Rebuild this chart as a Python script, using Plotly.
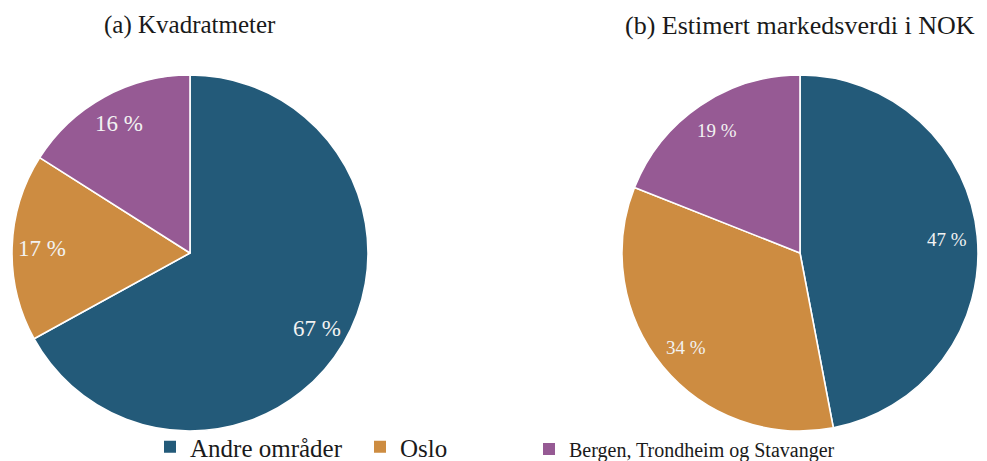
import math
import plotly.graph_objects as go

# ---- data ----
categories = ["Andre områder", "Oslo", "Bergen, Trondheim og Stavanger"]
kvadratmeter = [67, 17, 16]
markedsverdi = [47, 34, 19]
titles = ["(a) Kvadratmeter", "(b) Estimert markedsverdi i NOK"]
colors = ["#235A79", "#CD8C41", "#965A94"]

W, H = 987, 461
FONT = "Liberation Serif"

# pie domains (paper fractions)
dom_left = dict(x=[12 / W, 368 / W], y=[30 / H, 386 / H])
dom_right = dict(x=[622 / W, 978 / W], y=[30 / H, 386 / H])

fig = go.Figure()
for vals, dom in [(kvadratmeter, dom_left), (markedsverdi, dom_right)]:
    fig.add_trace(go.Pie(
        labels=categories, values=vals, domain=dom, sort=False,
        direction="clockwise", rotation=0, textinfo="none",
        marker=dict(colors=colors, line=dict(color="white", width=1.6)),
        showlegend=False, hoverinfo="label+percent",
    ))

# legend proxies
legend_of = ["legend", "legend", "legend2"]
for cat, col, lg in zip(categories, colors, legend_of):
    fig.add_trace(go.Scatter(
        x=[None], y=[None], mode="markers", name=cat, legend=lg,
        marker=dict(symbol="square", size=12, color=col),
        hoverinfo="skip",
    ))

annotations = []
# titles
for t, dom, fs in zip(titles, [dom_left, dom_right], [25, 26]):
    annotations.append(dict(
        text=t, x=(dom["x"][0] + dom["x"][1]) / 2, y=(H - 25) / H,
        xref="paper", yref="paper", xanchor="center", yanchor="middle",
        showarrow=False, font=dict(family=FONT, size=fs, color="#1a1a1a"),
    ))

# percentage labels placed at 0.83 radius on slice mid-angle
for vals, dom, fs in [(kvadratmeter, dom_left, 23), (markedsverdi, dom_right, 19)]:
    x0, x1 = dom["x"][0] * W, dom["x"][1] * W
    y0, y1 = dom["y"][0] * H, dom["y"][1] * H
    cx, cy = (x0 + x1) / 2, (y0 + y1) / 2
    r = min(x1 - x0, y1 - y0) / 2
    tot = sum(vals)
    cum = 0
    for v in vals:
        mid = (cum + v / 2) / tot * 2 * math.pi
        cum += v
        px = cx + 0.83 * r * math.sin(mid)
        py = cy + 0.83 * r * math.cos(mid)
        annotations.append(dict(
            text=f"{round(v / tot * 100)} %", x=px / W, y=py / H,
            xref="paper", yref="paper", xanchor="center", yanchor="middle",
            showarrow=False, font=dict(family=FONT, size=fs, color="#F2F2F2"),
        ))

fig.update_layout(
    width=W, height=H,
    margin=dict(l=0, r=0, t=0, b=0, autoexpand=False),
    paper_bgcolor="white", plot_bgcolor="white",
    xaxis=dict(visible=False), yaxis=dict(visible=False),
    annotations=annotations,
    legend=dict(orientation="h", x=(172 - 22) / W, y=14 / H,
                xanchor="left", yanchor="middle", entrywidth=165,
                font=dict(family=FONT, size=25, color="#1a1a1a"),
                bgcolor="rgba(0,0,0,0)"),
    legend2=dict(orientation="h", x=(551 - 22) / W, y=12 / H,
                 xanchor="left", yanchor="middle",
                 font=dict(family=FONT, size=20, color="#1a1a1a"),
                 bgcolor="rgba(0,0,0,0)"),
)

fig.write_html("out.html", config={"displayModeBar": False},
               post_script="document.body.style.margin='0';document.body.style.padding='0';")
